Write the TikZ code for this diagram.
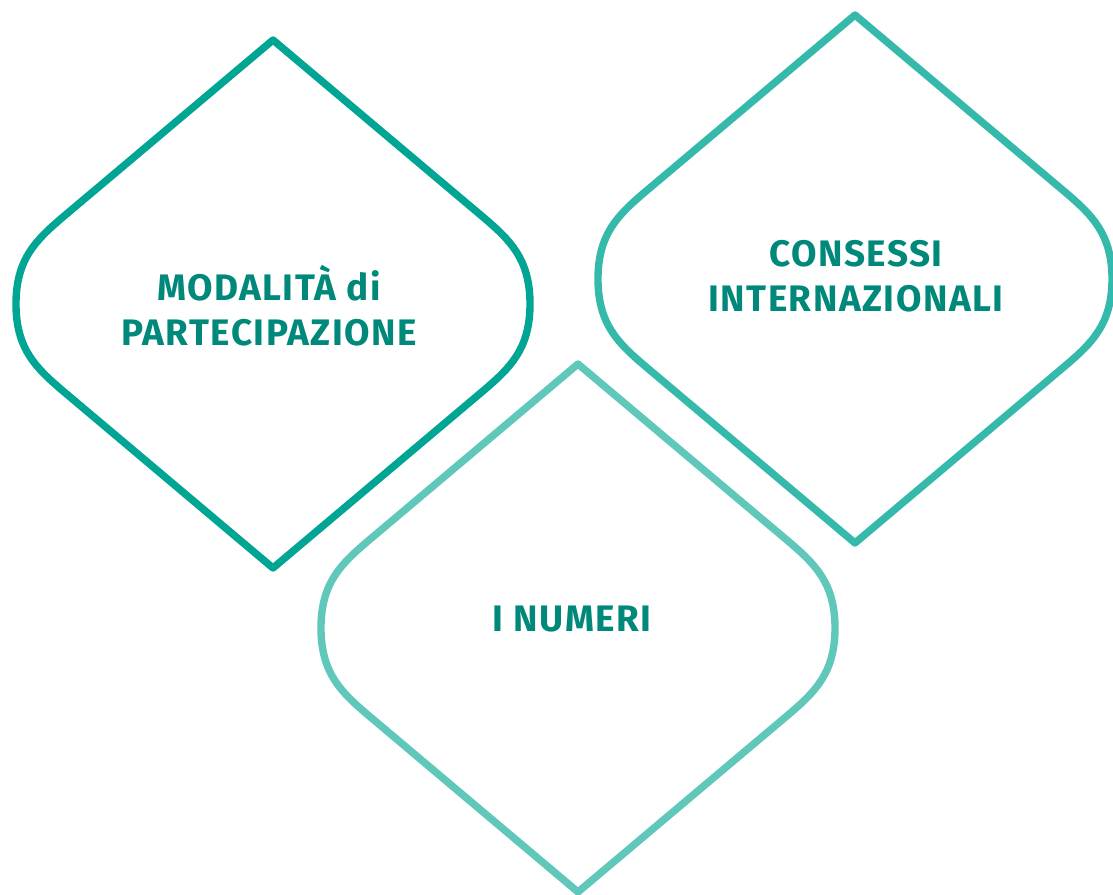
\documentclass[tikz,border=0pt]{standalone}
\usepackage{fontspec}
\setmainfont{Fira Sans}

\definecolor{petalA}{HTML}{00A693}
\definecolor{petalB}{HTML}{35B9AB}
\definecolor{petalC}{HTML}{60C8BB}
\definecolor{titleteal}{HTML}{00897A}

\tikzset{
  petal/.pic={
    \draw (0,-264) -- (210,-87)
      .. controls (237,-64) and (257,-45) .. (257,0)
      .. controls (257,45) and (237,64) .. (210,87)
      -- (0,264) -- (-210,87)
      .. controls (-237,64) and (-257,45) .. (-257,0)
      .. controls (-257,-45) and (-237,-64) .. (-210,-87)
      -- cycle;
  },
  petal line/.style={line width=4.2pt,line join=round},
  every node/.style={font=\bfseries\fontsize{21}{25.5}\selectfont\addfontfeature{LetterSpace=4},text=titleteal,align=center}
}

\begin{document}
\begin{tikzpicture}[x=0.02cm,y=-0.02cm]
\useasboundingbox (0,0) rectangle (1113,895);
\pic[petal line,color=petalA] at (273,304) {petal};
\pic[petal line,color=petalB] at (855,279) {petal};
\pic[petal line,color=petalC] at (578,628) {petal};

\node (modalita) at (269,306) {MODALITÀ di\\PARTECIPAZIONE};
\node (consessi) at (856,276) {CONSESSI\\INTERNAZIONALI};
\node (numeri) at (572,619) {I NUMERI};
\end{tikzpicture}
\end{document}
